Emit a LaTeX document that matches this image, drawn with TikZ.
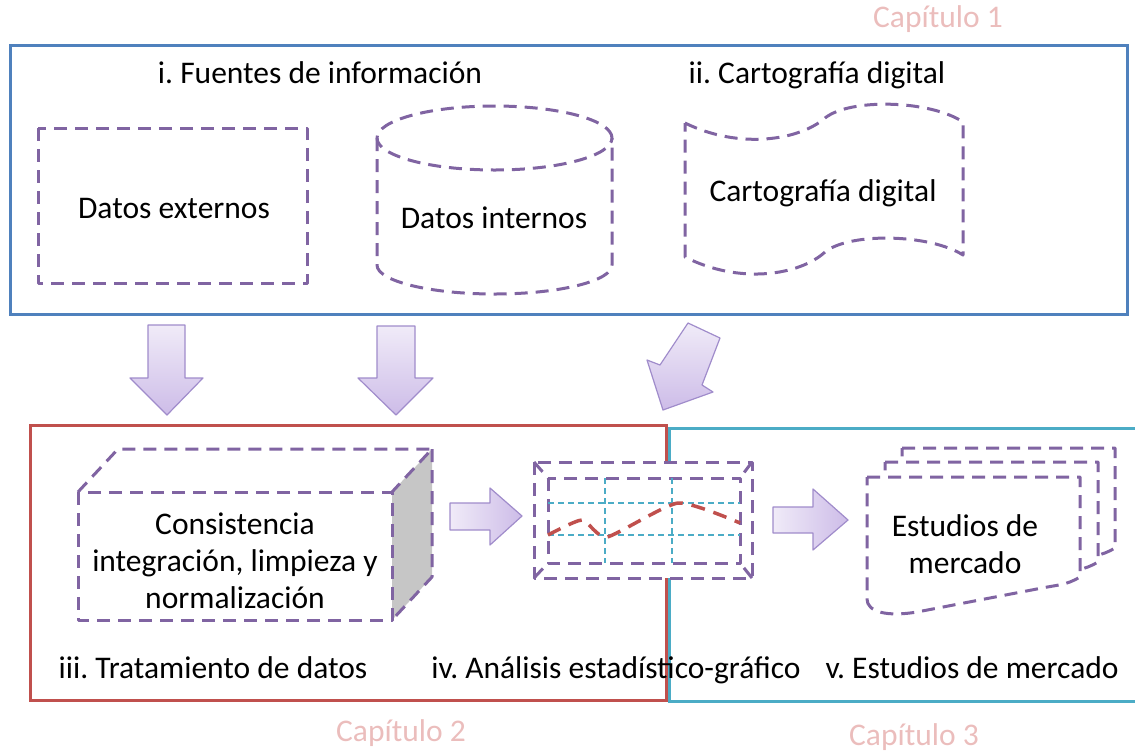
\documentclass[tikz,border=0pt]{standalone}
\usepackage{fontspec}
\setmainfont{Carlito}
\frenchspacing
\definecolor{cblue}{HTML}{4F81BD}
\definecolor{cred}{HTML}{C0504D}
\definecolor{cteal}{HTML}{4BACC6}
\definecolor{cpurple}{HTML}{8064A2}
\definecolor{cpink}{HTML}{EBBDBC}
\definecolor{cgray}{HTML}{C6C6C6}
\definecolor{arrline}{HTML}{A08CCB}
\definecolor{arrlight}{HTML}{F0EBF8}
\definecolor{arrdark}{HTML}{CDBCE8}
\tikzset{
  lbl/.style={font=\fontsize{31.5}{37}\selectfont, inner sep=0pt, align=center, text=black},
  caplbl/.style={lbl, text=cpink},
  pdash/.style={draw=cpurple, line width=3pt, dash pattern=on 13pt off 8pt, line join=round},
  frame/.style={line width=3pt},
  barrow/.style={draw=arrline, line width=1.2pt, line join=round},
  griddash/.style={draw=cteal, line width=1.3pt, dash pattern=on 6pt off 4pt},
  trend/.style={draw=cred, line width=3.5pt, dash pattern=on 14pt off 9pt}
}
\begin{document}
\begin{tikzpicture}[x=1pt,y=-1pt]
\useasboundingbox (0,0) rectangle (1135,753);
\clip (0,0) rectangle (1135,753);

% chapter frames
\draw[frame, cblue] (10,45) rectangle (1127,314);
\draw[frame, cteal] (1145,428) -- (669,428) -- (669,701) -- (1145,701);
\draw[frame, cred] (30,425) rectangle (666,700);

% chapter labels
\node[caplbl, anchor=base] (cap1) at (938,27) {Capítulo 1};
\node[caplbl, anchor=base] (cap2) at (401,741) {Capítulo 2};
\node[caplbl, anchor=base] (cap3) at (914,745) {Capítulo 3};

% section titles
\node[lbl, anchor=base] (fuentes) at (320,83) {i. Fuentes de información};
\node[lbl, anchor=base] (cartotit) at (817,83) {ii. Cartografía digital};
\node[lbl, anchor=base] (tratam) at (213,678) {iii. Tratamiento de datos};
\node[lbl, anchor=base] (analisis) at (616,678) {iv. Análisis estadístico-gráfico};
\node[lbl, anchor=base] (estmerc) at (972,678) {v. Estudios de mercado};

% Datos externos
\draw[pdash] (38,128) rectangle (307,283);
\node[lbl, anchor=base] (ext) at (174,218) {Datos externos};

% Datos internos (cylinder)
\draw[pdash] (377,138) -- (377,265) arc[start angle=180, end angle=360, x radius=117.5pt, y radius=29pt] -- (612,138);
\draw[pdash] (494.5,138) ellipse[x radius=117.5pt, y radius=32pt];
\node[lbl, anchor=base] (int) at (494,228) {Datos internos};

% Cartografia digital (tape)
\draw[pdash] (685,123) .. controls (740,150) and (800,140) .. (825,118)
  .. controls (850,98) and (930,100) .. (963,122) -- (963,255)
  .. controls (930,234) and (850,232) .. (825,252)
  .. controls (800,275) and (740,285) .. (685,257) -- cycle;
\node[lbl, anchor=base] (cart) at (823,201) {Cartografía digital};

% block arrows
\path[barrow, top color=arrlight, bottom color=arrdark]
  (148,325) -- (185,325) -- (185,378) -- (203,378) -- (167,415) -- (130,378) -- (148,378) -- cycle;
\path[barrow, top color=arrlight, bottom color=arrdark]
  (377,326) -- (415,326) -- (415,378) -- (433,378) -- (396,415) -- (358,378) -- (377,378) -- cycle;
\path[barrow, top color=arrlight, bottom color=arrdark]
  (688,323) -- (720,338) -- (702,385) -- (713,392) -- (663,410) -- (647,360) -- (660,365) -- cycle;
\path[barrow, left color=arrlight, right color=arrdark]
  (450,503) -- (490,503) -- (490,488) -- (522,516) -- (490,545) -- (490,530) -- (450,530) -- cycle;
\path[barrow, left color=arrlight, right color=arrdark]
  (773,507) -- (813,507) -- (813,489) -- (848,520) -- (813,550) -- (813,533) -- (773,533) -- cycle;

% cube
\fill[cgray] (392,492) -- (432,449) -- (432,577) -- (392,620) -- cycle;
\draw[pdash] (78,492) -- (118,449) -- (432,449) -- (392,492);
\draw[pdash] (432,449) -- (432,577) -- (392,620);
\draw[pdash] (78,492) rectangle (392,620);
\node[lbl] (cons) at (235,561) {Consistencia\\integración, limpieza y\\normalización};

% chart icon
\draw[pdash, fill=white] (534,462) rectangle (752,578);
\draw[pdash] (548,478) rectangle (740,563);
\draw[pdash] (534,462) -- (548,478);
\draw[pdash] (752,462) -- (740,478);
\draw[pdash] (534,578) -- (548,563);
\draw[pdash] (752,578) -- (740,563);
\draw[griddash] (605,478) -- (605,563);
\draw[griddash] (672,478) -- (672,563);
\draw[griddash] (548,503) -- (740,503);
\draw[griddash] (548,535) -- (740,535);
\draw[trend] plot[smooth, tension=0.35] coordinates {(548,535) (582,520) (607,537) (678,503) (740,523)};

% stacked documents
\foreach \dx/\dy in {35/-29, 18/-15, 0/0}{
  \draw[pdash, fill=white, shift={(867+\dx,477+\dy)}]
    (0,0) -- (213,0) -- (213,100) .. controls (200,108) and (190,108) .. (175,111)
    -- (50,135) .. controls (20,140) and (0,135) .. (0,122) -- cycle;
}
\node[lbl] (estud) at (965,544) {Estudios de\\mercado};
\end{tikzpicture}
\end{document}
